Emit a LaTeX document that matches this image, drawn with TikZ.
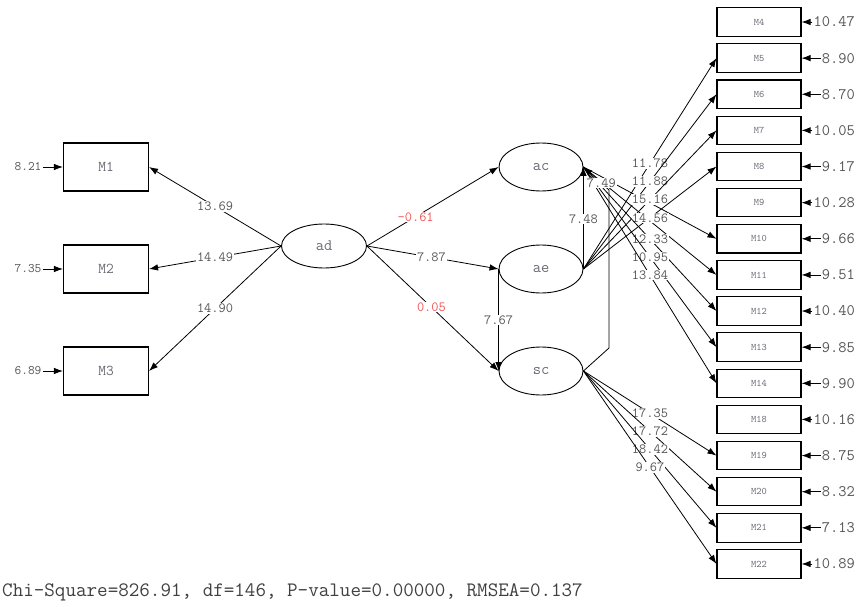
\documentclass[tikz,border=0pt]{standalone}
\usepackage{fontspec}
\usetikzlibrary{arrows.meta,shapes.geometric}
\definecolor{numgray}{HTML}{555555}
\definecolor{lblgray}{HTML}{6A6A74}
\definecolor{redval}{HTML}{F05555}
\definecolor{bottomgray}{HTML}{404040}
\begin{document}
\begin{tikzpicture}[x=1pt,y=-1pt,
  obsL/.style={draw, line width=1.1pt, minimum width=85pt, minimum height=48pt, inner sep=0pt, font=\ttfamily\fontsize{15}{15}\selectfont, text=lblgray},
  obsR/.style={draw, line width=1.1pt, minimum width=84pt, minimum height=28.5pt, inner sep=0pt, font=\ttfamily\fontsize{10}{10}\selectfont, text=lblgray},
  lat/.style={ellipse, draw, line width=0.9pt, minimum width=84pt, minimum height=48pt, inner sep=0pt, font=\ttfamily\fontsize{16}{16}\selectfont, text=lblgray},
  errL/.style={font=\ttfamily\fontsize{13}{13}\selectfont, text=numgray, inner sep=1pt},
  errR/.style={font=\ttfamily\fontsize{16}{16}\selectfont, text=numgray, inner sep=1pt, anchor=east},
  val/.style={font=\ttfamily\fontsize{14}{14}\selectfont, text=numgray, fill=white, inner sep=0.8pt},
  rval/.style={val, text=redval},
  arr/.style={-{Latex[length=9pt,width=6.5pt]}, line width=0.8pt},
]
\fill[white] (0,0) rectangle (857,607);
\useasboundingbox (0,0) rectangle (857,607);

% left indicators
\node[obsL] (M1) at (106,167) {M1};
\node[obsL] (M2) at (106,269) {M2};
\node[obsL] (M3) at (106,371) {M3};
\node[errL] (e1) at (28,167) {8.21};
\node[errL] (e2) at (28,269) {7.35};
\node[errL] (e3) at (28,371) {6.89};
\draw[arr] (e1) -- (M1);
\draw[arr] (e2) -- (M2);
\draw[arr] (e3) -- (M3);

% latent variables
\node[lat, minimum width=85pt, minimum height=44pt] (ad) at (324,246) {ad};
\node[lat] (ac) at (541,167) {ac};
\node[lat] (ae) at (541,269) {ae};
\node[lat] (sc) at (541,371) {sc};

% right indicators
\foreach \n/\k/\e in {M4/0/10.47, M5/1/8.90, M6/2/8.70, M7/3/10.05, M8/4/9.17,
  M9/5/10.28, M10/6/9.66, M11/7/9.51, M12/8/10.40, M13/9/9.85, M14/10/9.90,
  M18/11/10.16, M19/12/8.75, M20/13/8.32, M21/14/7.13, M22/15/10.89}{
  \node[obsR] (\n) at (759,{22+36.13*\k}) {\n};
  \node[errR] (r\n) at (856,{22+36.13*\k}) {\e};
  \draw[arr] (r\n) -- (\n);
}

% loadings fans
\draw[arr] (ae.east) -- node[val,pos=0.5]{11.78} (M5.west);
\draw[arr] (ae.east) -- node[val,pos=0.5]{11.88} (M6.west);
\draw[arr] (ac.east) -- (M10.west);
\draw[arr] (ac.east) -- (M11.west);
\draw[arr] (ae.east) -- node[val,pos=0.5]{15.16} (M7.west);
\draw[arr] (ae.east) -- node[val,pos=0.5]{14.56} (M8.west);
\draw[arr] (ac.east) -- node[val,pos=0.5]{12.33} (M12.west);
\draw[arr] (ac.east) -- node[val,pos=0.5]{10.95} (M13.west);
\draw[arr] (ac.east) -- node[val,pos=0.5]{13.84} (M14.west);

\draw[arr] (sc.east) -- node[val,pos=0.5]{17.35} (M19.west);
\draw[arr] (sc.east) -- node[val,pos=0.5]{17.72} (M20.west);
\draw[arr] (sc.east) -- node[val,pos=0.5]{18.42} (M21.west);
\draw[arr] (sc.east) -- node[val,pos=0.5]{9.67} (M22.west);

% ad to indicators
\draw[arr] (ad.west) -- node[val,pos=0.5]{13.69} (M1.east);
\draw[arr] (ad.west) -- node[val,pos=0.5]{14.49} (M2.east);
\draw[arr] (ad.west) -- node[val,pos=0.5]{14.90} (M3.east);

% structural paths
\draw[arr] (ad.east) -- node[rval,pos=0.37]{-0.61} (ac.west);
\draw[arr] (ad.east) -- node[val,pos=0.49]{7.87} (ae.west);
\draw[arr] (ad.east) -- node[rval,pos=0.49]{0.05} (sc.west);
\draw[arr] (ae.west) -- node[val,pos=0.5]{7.67} (sc.west);
\draw[arr] (ae.east) -- node[val,pos=0.49]{7.48} (ac.east);
\coordinate (k1) at (609,348);
\coordinate (k2) at (609,190);
\draw[arr] (sc.east) -- (k1) -- (k2) -- node[val,pos=0.3]{7.49} (ac.east);

% fit statistics
\node[anchor=west, inner sep=0pt, text=bottomgray, font=\ttfamily\fontsize{20.5}{20.5}\selectfont] (fit) at (2,592)
  {Chi-Square=826.91, df=146, P-value=0.00000, RMSEA=0.137};
\end{tikzpicture}
\end{document}
